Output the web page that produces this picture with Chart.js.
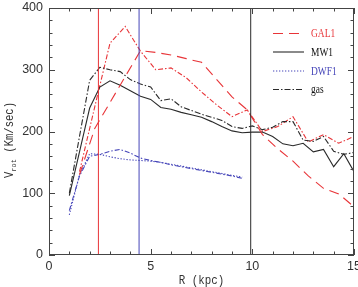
<!DOCTYPE html>
<html><head><meta charset="utf-8">
<script src="https://cdn.jsdelivr.net/npm/chart.js@4/dist/chart.umd.min.js"></script>
<style>html,body{margin:0;padding:0;background:#fff;overflow:hidden}#wrap{width:358px;height:287px;position:relative}</style>
</head><body><div id="wrap"><canvas id="c"></canvas></div>
<script>
// ---- data ----
const xTicks = [0, 5, 10, 15];
const yTicks = [0, 100, 200, 300, 400];

const gal1R   = [1.5,2.25,3.0,3.75,4.5,5.25,6.0,6.75,7.5,8.25,9.0,9.75,10.5,11.25,12.0,12.75,13.5,14.25,15.0];
const gal1V   = [130,205,247,289,331,328,324,318,312,284,256,235,195,172,152,128,108,99,78];
const gal1GasV= [135,240,343,370,330,300,303,287,264,243,224,235,200,208,224,183,195,181,192];

const mw1R    = [1.0,1.5,2.0,2.5,3.0,3.5,4.0,4.5,5.0,5.5,6.0,6.5,7.0,7.5,8.0,8.5,9.0,9.5,10.0,10.5,11.0,11.5,12.0,12.5,13.0,13.5,14.0,14.5,15.0];
const mw1V    = [96,167,238,272,282,275,266,257,252,239,236,231,227,223,216,208,201,198,199,199,192,180,177,181,167,171,143,164,135];
const mw1GasV = [100,192,283,304,300,297,284,277,272,250,253,240,234,228,223,218,208,205,209,203,207,216,216,186,184,192,168,163,166];

const dwf1R   = [1.0,1.5,2.0,2.5,3.0,3.5,4.0,4.5,5.0,5.5,6.0,6.5,7.0,7.5,8.0,8.5,9.0,9.5];
const dwf1V   = [65,130,164,163,159,156,154,153,152,150,147,144,141,138,135,132,129,126];
const dwf1GasV= [72,128,160,163,168,171,165,157,153,150,146,143,140,137,134,131,128,124];

const vLineR  = [2.43, 4.43, 9.92];
const legendLabels = ['GAL1', 'MW1', 'DWF1', 'gas'];

// ---- styles ----
const RED = 'rgb(232,52,56)';
const BLUE = 'rgb(70,70,185)';
const BLK = '#2a2a2a';

const pts = (R, V) => R.map((r, i) => ({x: r, y: V[i]}));
const vline = (r, c) => ({data: [{x: r, y: 0}, {x: r, y: 400}], borderColor: c, borderWidth: 1, showLine: true, pointRadius: 0, label: ''});

const datasets = [
  vline(vLineR[0], RED),
  vline(vLineR[1], BLUE),
  vline(vLineR[2], BLK),
  {label: legendLabels[0], data: pts(gal1R, gal1V), borderColor: RED, borderDash: [10, 6], borderWidth: 1.1, textColor: RED},
  {label: legendLabels[1], data: pts(mw1R, mw1V), borderColor: BLK, borderDash: [], borderWidth: 1.1, textColor: '#111'},
  {label: legendLabels[2], data: pts(dwf1R, dwf1V), borderColor: BLUE, borderDash: [1.3, 1.7], borderWidth: 1.1, textColor: BLUE},
  {label: legendLabels[3], data: pts(mw1R, mw1GasV), borderColor: BLK, borderDash: [6, 2, 1.5, 2], borderWidth: 1.1, textColor: '#111'},
  {label: '', data: pts(gal1R, gal1GasV), borderColor: RED, borderDash: [5, 2, 1.5, 2], borderWidth: 1.1},
  {label: '', data: pts(dwf1R, dwf1GasV), borderColor: BLUE, borderDash: [5, 2, 1.5, 2], borderWidth: 1.1}
].map(d => Object.assign({showLine: true, pointRadius: 0, fill: false, tension: 0}, d));

const frameTicks = {
  id: 'frameTicks',
  afterDatasetsDraw(chart) {
    const {ctx, chartArea: a, scales: {x, y}} = chart;
    ctx.save();
    ctx.strokeStyle = '#444';
    ctx.lineWidth = 1;
    ctx.strokeRect(a.left + 0.5, a.top + 0.5, a.right - a.left - 1, a.bottom - a.top - 1);
    ctx.beginPath();
    for (let v = x.min; v <= x.max; v += 1) {
      const px = Math.round(x.getPixelForValue(v)) + 0.5;
      const L = xTicks.includes(v) ? 6 : 3.5;
      ctx.moveTo(px, a.bottom); ctx.lineTo(px, a.bottom - L);
      ctx.moveTo(px, a.top); ctx.lineTo(px, a.top + L);
    }
    for (let v = y.min; v <= y.max; v += 20) {
      const py = Math.round(y.getPixelForValue(v)) + 0.5;
      const L = yTicks.includes(v) ? 6 : 3.5;
      ctx.moveTo(a.left, py); ctx.lineTo(a.left + L, py);
      ctx.moveTo(a.right, py); ctx.lineTo(a.right - L, py);
    }
    ctx.stroke();
    ctx.restore();
  },
  afterDraw(chart) {
    const {ctx, chartArea: a} = chart;
    ctx.save();
    // x title
    ctx.fillStyle = '#333';
    ctx.font = '12px "Liberation Mono"';
    ctx.textAlign = 'center';
    ctx.textBaseline = 'middle';
    ctx.save();
    ctx.translate((a.left + a.right) / 2, 281);
    ctx.scale(0.9, 1);
    ctx.fillText('R (kpc)', 0, 0);
    ctx.restore();
    // y title with subscript
    ctx.save();
    ctx.translate(10, 140);
    ctx.rotate(-Math.PI / 2);
    ctx.scale(0.88, 1);
    ctx.textAlign = 'left';
    const big = '12px "Liberation Mono"', small = '8px "Liberation Mono"';
    ctx.font = big; const wV = ctx.measureText('V').width;
    ctx.font = small; const wS = ctx.measureText('rot').width;
    ctx.font = big; const wT = ctx.measureText(' (Km/sec)').width;
    let sx = -(wV + wS + wT) / 2;
    ctx.font = big; ctx.fillText('V', sx, 0); sx += wV;
    ctx.font = small; ctx.fillText('rot', sx, 4); sx += wS;
    ctx.font = big; ctx.fillText(' (Km/sec)', sx, 0);
    ctx.restore();
    // legend
    const ys = [33, 51.5, 70.5, 89];
    const dsets = chart.data.datasets;
    legendLabels.forEach((lab, i) => {
      const ds = dsets.find(d => d.label === lab);
      const yy = ys[i] + 0.5;
      ctx.save();
      ctx.strokeStyle = ds.borderColor;
      ctx.lineWidth = 1.1;
      ctx.setLineDash(ds.borderDash || []);
      ctx.beginPath(); ctx.moveTo(273, yy); ctx.lineTo(304, yy); ctx.stroke();
      ctx.restore();
      ctx.save();
      ctx.fillStyle = ds.textColor;
      ctx.font = '13.5px "Liberation Serif"';
      ctx.textAlign = 'left';
      ctx.textBaseline = 'middle';
      ctx.translate(311, yy);
      ctx.scale(0.7, 1);
      ctx.fillText(lab, 0, 0);
      ctx.restore();
    });
    ctx.restore();
  }
};

new Chart(document.getElementById('c'), {
  type: 'scatter',
  data: {datasets},
  options: {
    responsive: true,
    maintainAspectRatio: false,
    animation: false,
    events: [],
    layout: {padding: {top: 8, right: 4, left: 0, bottom: 0}},
    plugins: {legend: {display: false}, tooltip: {enabled: false}},
    scales: {
      x: {
        type: 'linear', min: 0, max: 15,
        grid: {display: false, drawTicks: false}, border: {display: false},
        afterBuildTicks: s => { s.ticks = xTicks.map(v => ({value: v})); },
        ticks: {padding: 4, color: '#333', font: {family: 'Liberation Sans', size: 12.5}, maxRotation: 0},
        afterFit: s => { s.height = 32; s.paddingLeft = 0; s.paddingRight = 0; }
      },
      y: {
        type: 'linear', min: 0, max: 400,
        grid: {display: false, drawTicks: false}, border: {display: false},
        afterBuildTicks: s => { s.ticks = yTicks.map(v => ({value: v})); },
        ticks: {padding: 6, color: '#333', font: {family: 'Liberation Sans', size: 12.5}},
        afterFit: s => { s.width = 49; s.paddingTop = 0; s.paddingBottom = 0; }
      }
    }
  },
  plugins: [frameTicks]
});
</script></body></html>
